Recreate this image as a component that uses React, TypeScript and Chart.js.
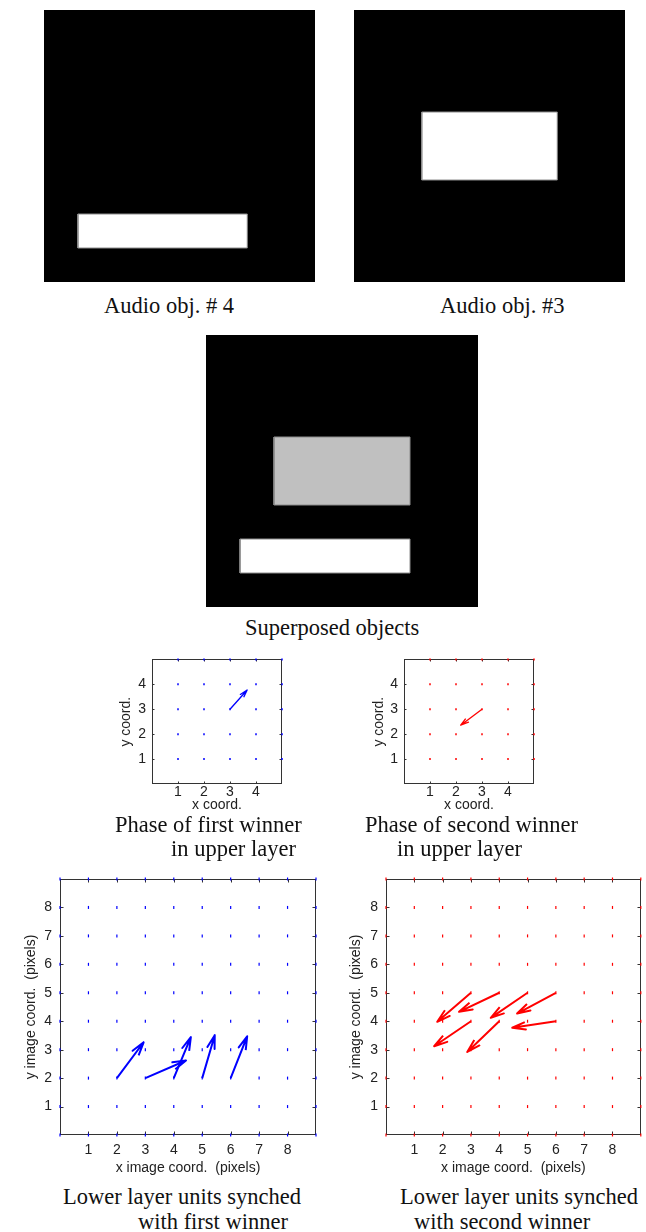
import React, { useEffect, useRef } from 'react';
import { Chart, registerables } from 'chart.js';

Chart.register(...registerables);

// ---------- data ----------
// image panels: 8x8 pixel images, rectangles in pixel units (x0..x1, y0..y1)
const IMG_EXTENT = [0, 8];
const OBJ4_X0 = [1];
const OBJ4_X1 = [6];
const OBJ4_Y0 = [1];
const OBJ4_Y1 = [2];
const OBJ4_SHADE = ['#ffffff'];

const OBJ3_X0 = [2];
const OBJ3_X1 = [6];
const OBJ3_Y0 = [3];
const OBJ3_Y1 = [5];
const OBJ3_SHADE = ['#ffffff'];

const SUP_X0 = [2, 1];
const SUP_X1 = [6, 6];
const SUP_Y0 = [3, 1];
const SUP_Y1 = [5, 2];
const SUP_SHADE = ['#c0c0c0', '#ffffff'];

// upper layer (4x4 units) phase plots
const UPPER_GRID = [1, 2, 3, 4, 5];
const UPPER_TICKS = [1, 2, 3, 4];
const UPPER_MAX = 5;
const UP1_TAIL_X = [3];
const UP1_TAIL_Y = [3];
const UP1_HEAD_X = [3.66];
const UP1_HEAD_Y = [3.77];
const UP2_TAIL_X = [3];
const UP2_TAIL_Y = [3];
const UP2_HEAD_X = [2.18];
const UP2_HEAD_Y = [2.36];

// lower layer (8x8 units) plots
const LOWER_GRID = [0, 1, 2, 3, 4, 5, 6, 7, 8, 9];
const LOWER_TICKS = [1, 2, 3, 4, 5, 6, 7, 8];
const LOWER_MAX = 9;
const LO1_TAIL_X = [2, 3, 4, 5, 6];
const LO1_TAIL_Y = [2, 2, 2, 2, 2];
const LO1_HEAD_X = [2.94, 4.43, 4.6, 5.44, 6.58];
const LO1_HEAD_Y = [3.26, 2.62, 3.44, 3.51, 3.47];
const LO2_TAIL_X = [3, 4, 5, 6, 6, 3, 4];
const LO2_TAIL_Y = [5, 5, 5, 5, 4, 4, 4];
const LO2_HEAD_X = [1.81, 2.58, 3.7, 4.63, 4.46, 1.7, 2.87];
const LO2_HEAD_Y = [3.98, 4.33, 4.12, 4.27, 3.77, 3.12, 2.92];

// ---------- helpers ----------
const SANS = "'Liberation Sans', Arial, Helvetica, sans-serif";
const SERIF = "'Liberation Serif', 'Times New Roman', Times, serif";

function rectDataset(x0: number, x1: number, y0: number, y1: number, color: string, edge: number, order: number) {
  return {
    data: [
      { x: x0, y: y0 },
      { x: x1, y: y0 },
      { x: x1, y: y1 },
      { x: x0, y: y1 },
      { x: x0, y: y0 },
    ],
    showLine: true,
    fill: 'shape',
    backgroundColor: color,
    borderColor: edge ? '#8c8c8c' : color,
    borderWidth: edge,
    pointRadius: 0,
    tension: 0,
    order,
  };
}

function imageConfig(x0: number[], x1: number[], y0: number[], y1: number[], shades: string[]) {
  const datasets: any[] = [rectDataset(IMG_EXTENT[0], IMG_EXTENT[1], IMG_EXTENT[0], IMG_EXTENT[1], '#000000', 0, 10)];
  x0.forEach((_, i) => datasets.push(rectDataset(x0[i], x1[i], y0[i], y1[i], shades[i], 1, i)));
  return {
    type: 'scatter',
    data: { datasets },
    options: {
      responsive: false,
      animation: false,
      events: [],
      layout: { padding: 0 },
      plugins: { legend: { display: false }, tooltip: { enabled: false } },
      scales: {
        x: { type: 'linear', display: false, min: IMG_EXTENT[0], max: IMG_EXTENT[1] },
        y: { type: 'linear', display: false, min: IMG_EXTENT[0], max: IMG_EXTENT[1] },
      },
    },
  };
}

const framePlugin = {
  id: 'frame',
  beforeDatasetsDraw(chart: any, _args: any, opts: any) {
    const { ctx, chartArea: a, scales } = chart;
    const L = opts.tick || 3;
    ctx.save();
    ctx.strokeStyle = '#333333';
    ctx.lineWidth = 1;
    const l = Math.round(a.left) + 0.5;
    const r = Math.round(a.right) - 0.5;
    const t = Math.round(a.top) + 0.5;
    const b = Math.round(a.bottom) - 0.5;
    ctx.strokeRect(l, t, r - l, b - t);
    ctx.beginPath();
    for (const tk of scales.x.ticks) {
      const px = Math.round(scales.x.getPixelForValue(tk.value)) + 0.5;
      ctx.moveTo(px, b);
      ctx.lineTo(px, b - L);
      ctx.moveTo(px, t);
      ctx.lineTo(px, t + L);
    }
    for (const tk of scales.y.ticks) {
      const py = Math.round(scales.y.getPixelForValue(tk.value)) + 0.5;
      ctx.moveTo(l, py);
      ctx.lineTo(l + L, py);
      ctx.moveTo(r, py);
      ctx.lineTo(r - L, py);
    }
    ctx.stroke();
    ctx.restore();
  },
};

interface QuiverSpec {
  grid: number[];
  ticks: number[];
  max: number;
  tx: number[];
  ty: number[];
  hx: number[];
  hy: number[];
  color: string;
  arrowWidth: number;
  dotRadius: number;
  dotWidth: number;
  xTitle: string;
  yTitle: string;
  yAxisWidth: number;
  xAxisHeight: number;
  padTop: number;
  padRight: number;
  yTitlePad: number;
  xTitlePad: number;
  yTickPad: number;
  xTickPad: number;
  tickLen: number;
  fontSize: number;
}

function quiverConfig(s: QuiverSpec) {
  const dots: { x: number; y: number }[] = [];
  s.grid.forEach((gx) => s.grid.forEach((gy) => dots.push({ x: gx, y: gy })));
  const alpha = 0.3;
  const beta = 0.28;
  const arrows = s.tx.map((_, i) => {
    const tx = s.tx[i], ty = s.ty[i], hx = s.hx[i], hy = s.hy[i];
    const u = hx - tx, v = hy - ty;
    const w1 = { x: hx - alpha * (u + beta * v), y: hy - alpha * (v - beta * u) };
    const w2 = { x: hx - alpha * (u - beta * v), y: hy - alpha * (v + beta * u) };
    return {
      data: [{ x: tx, y: ty }, { x: hx, y: hy }, w1, { x: hx, y: hy }, w2],
      showLine: true,
      borderColor: s.color,
      borderWidth: s.arrowWidth,
      borderJoinStyle: 'round',
      borderCapStyle: 'butt',
      pointRadius: 0,
      tension: 0,
      fill: false,
      clip: false,
      order: 0,
    };
  });
  const font = { family: SANS, size: s.fontSize };
  return {
    type: 'scatter',
    plugins: [framePlugin],
    data: {
      datasets: [
        ...arrows,
        {
          data: dots,
          showLine: false,
          pointStyle: 'line',
          rotation: 90,
          pointRadius: s.dotRadius,
          borderWidth: s.dotWidth,
          borderColor: s.color,
          backgroundColor: s.color,
          clip: false,
          order: 1,
        },
      ],
    },
    options: {
      responsive: false,
      animation: false,
      events: [],
      layout: { padding: { left: 0, top: s.padTop, right: s.padRight, bottom: 0 } },
      plugins: { legend: { display: false }, tooltip: { enabled: false }, frame: { tick: s.tickLen } },
      scales: {
        x: {
          type: 'linear',
          min: 0,
          max: s.max,
          afterBuildTicks: (sc: any) => {
            sc.ticks = s.ticks.map((v) => ({ value: v }));
          },
          afterFit: (sc: any) => {
            sc.height = s.xAxisHeight;
          },
          grid: { display: false, drawTicks: false },
          border: { display: false },
          ticks: { padding: s.xTickPad, font, color: '#222222', maxRotation: 0, autoSkip: false },
          title: { display: true, text: s.xTitle, font, color: '#222222', padding: { top: 0, bottom: s.xTitlePad } },
        },
        y: {
          type: 'linear',
          min: 0,
          max: s.max,
          afterBuildTicks: (sc: any) => {
            sc.ticks = s.ticks.map((v) => ({ value: v }));
          },
          afterFit: (sc: any) => {
            sc.width = s.yAxisWidth;
          },
          grid: { display: false, drawTicks: false },
          border: { display: false },
          ticks: { padding: s.yTickPad, font, color: '#222222', autoSkip: false },
          title: { display: true, text: s.yTitle, font, color: '#222222', padding: { top: s.yTitlePad, bottom: 0 } },
        },
      },
    },
  };
}

function ChartBox({ left, top, width, height, config }: { left: number; top: number; width: number; height: number; config: any }) {
  const ref = useRef<HTMLCanvasElement | null>(null);
  useEffect(() => {
    if (!ref.current) return;
    const chart = new Chart(ref.current, config);
    return () => chart.destroy();
  }, []);
  return (
    <div style={{ position: 'absolute', left, top, width, height }}>
      <canvas ref={ref} width={width} height={height} style={{ display: 'block', width, height }} />
    </div>
  );
}

function Caption({ left, baseline, text }: { left: number; baseline: number; text: string }) {
  return (
    <div
      style={{
        position: 'absolute',
        left,
        top: baseline - 17,
        fontFamily: SERIF,
        fontSize: 22.5,
        lineHeight: '22.5px',
        whiteSpace: 'nowrap',
        color: '#111111',
      }}
    >
      {text}
    </div>
  );
}

export default function App() {
  useEffect(() => {
    document.body.style.margin = '0';
  }, []);

  const lowerBase = {
    grid: LOWER_GRID,
    ticks: LOWER_TICKS,
    max: LOWER_MAX,
    arrowWidth: 2,
    dotRadius: 1.5,
    dotWidth: 1.2,
    xTitle: 'x image coord.  (pixels)',
    yTitle: 'y image coord.  (pixels)',
    yAxisWidth: 60,
    xAxisHeight: 45,
    padTop: 19,
    xTitlePad: 3,
    yTickPad: 8,
    xTickPad: 7,
    tickLen: 3,
    fontSize: 14,
  };
  const upperBase = {
    grid: UPPER_GRID,
    ticks: UPPER_TICKS,
    max: UPPER_MAX,
    arrowWidth: 1.3,
    dotRadius: 1,
    dotWidth: 1.5,
    xTitle: 'x coord.',
    yTitle: 'y coord.',
    yAxisWidth: 52,
    xAxisHeight: 31,
    padTop: 10,
    padRight: 8,
    xTitlePad: 1,
    yTickPad: 6,
    xTickPad: 0,
    tickLen: 2,
    fontSize: 14,
  };

  return (
    <div style={{ position: 'absolute', left: 0, top: 0, width: 646, height: 1232, background: '#ffffff', overflow: 'hidden' }}>
      <ChartBox left={44} top={10} width={271} height={272} config={imageConfig(OBJ4_X0, OBJ4_X1, OBJ4_Y0, OBJ4_Y1, OBJ4_SHADE)} />
      <ChartBox left={354} top={10} width={271} height={272} config={imageConfig(OBJ3_X0, OBJ3_X1, OBJ3_Y0, OBJ3_Y1, OBJ3_SHADE)} />
      <ChartBox left={206} top={335} width={272} height={272} config={imageConfig(SUP_X0, SUP_X1, SUP_Y0, SUP_Y1, SUP_SHADE)} />

      <Caption left={104} baseline={311.5} text="Audio obj. # 4" />
      <Caption left={440} baseline={311.5} text="Audio obj. #3" />
      <Caption left={245} baseline={634} text="Superposed objects" />

      <ChartBox
        left={100}
        top={645}
        width={190}
        height={170}
        config={quiverConfig({
          ...upperBase,
          tx: UP1_TAIL_X,
          ty: UP1_TAIL_Y,
          hx: UP1_HEAD_X,
          hy: UP1_HEAD_Y,
          color: '#0000ff',
          yTitlePad: 18,
        } as QuiverSpec)}
      />
      <ChartBox
        left={352}
        top={645}
        width={190}
        height={170}
        config={quiverConfig({
          ...upperBase,
          tx: UP2_TAIL_X,
          ty: UP2_TAIL_Y,
          hx: UP2_HEAD_X,
          hy: UP2_HEAD_Y,
          color: '#ff0000',
          yTitlePad: 19,
        } as QuiverSpec)}
      />

      <Caption left={115} baseline={831} text="Phase of first winner" />
      <Caption left={171} baseline={855} text="in upper layer" />
      <Caption left={365} baseline={831} text="Phase of second winner" />
      <Caption left={397} baseline={855} text="in upper layer" />

      <ChartBox
        left={0}
        top={860}
        width={323}
        height={320}
        config={quiverConfig({
          ...lowerBase,
          tx: LO1_TAIL_X,
          ty: LO1_TAIL_Y,
          hx: LO1_HEAD_X,
          hy: LO1_HEAD_Y,
          color: '#0000ff',
          padRight: 7,
          yTitlePad: 23,
        } as QuiverSpec)}
      />
      <ChartBox
        left={326}
        top={860}
        width={320}
        height={320}
        config={quiverConfig({
          ...lowerBase,
          tx: LO2_TAIL_X,
          ty: LO2_TAIL_Y,
          hx: LO2_HEAD_X,
          hy: LO2_HEAD_Y,
          color: '#ff0000',
          padRight: 4,
          yTitlePad: 22,
        } as QuiverSpec)}
      />

      <Caption left={63} baseline={1203} text="Lower layer units synched" />
      <Caption left={138} baseline={1228} text="with first winner" />
      <Caption left={400} baseline={1203} text="Lower layer units synched" />
      <Caption left={414} baseline={1228} text="with second winner" />
    </div>
  );
}
